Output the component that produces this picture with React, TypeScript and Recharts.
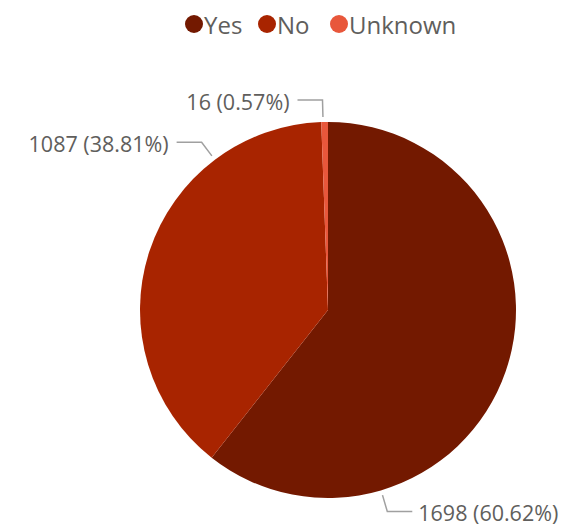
import React from "react";
import { PieChart, Pie, Cell } from "recharts";

const categories = ["Yes", "No", "Unknown"];
const counts = [1698, 1087, 16];
const colors = ["#731900", "#A82400", "#E8573B"];

const data = categories.map((name, i) => ({ name, value: counts[i] }));
const total = counts.reduce((a, b) => a + b, 0);

// label anchor angles (degrees, math orientation) per slice, style only
const LABEL_ANGLES = [-73.6, 127, 91.5];
// legend item left offsets (style only)
const LEGEND_LEFTS = [185, 258, 330];
const TEXT_COLOR = "#605E5C";

const renderLabel = (props: any) => {
  const { cx, cy, outerRadius, index, value } = props;
  const a = (LABEL_ANGLES[index] * Math.PI) / 180;
  const r1 = outerRadius + 5;
  const r2 = outerRadius + 22;
  const x1 = cx + r1 * Math.cos(a);
  const y1 = cy - r1 * Math.sin(a);
  const x2 = cx + r2 * Math.cos(a);
  const y2 = cy - r2 * Math.sin(a);
  const right = Math.cos(a) > 0 && index === 0;
  const x3 = right ? x2 + 25 : x2 - 25;
  const pct = ((value / total) * 100).toFixed(2);
  const tx = right ? x3 + 6 : x3 - 8;
  return (
    <g key={`lbl-${index}`}>
      <polyline
        points={`${x1},${y1} ${x2},${y2} ${x3},${y2}`}
        fill="none"
        stroke="#a0a0a0"
        strokeWidth={1.5}
      />
      <text
        x={tx}
        y={y2 + 1}
        textAnchor={right ? "start" : "end"}
        dominantBaseline="central"
        fill={TEXT_COLOR}
        fontFamily="'Open Sans', sans-serif"
        fontSize={21.5}
      >
        {`${value} (${pct}%)`}
      </text>
    </g>
  );
};

export default function App() {
  return (
    <div style={{ position: "absolute", left: 0, top: 0, width: 570, height: 526 }}>
      <div
        style={{
          position: "absolute",
          left: 0,
          top: 0,
          width: 570,
          height: 50,
          fontFamily: "'Open Sans', sans-serif",
          fontSize: 24,
          color: TEXT_COLOR,
        }}
      >
        {categories.map((c, i) => (
          <div
            key={c}
            style={{
              position: "absolute",
              left: LEGEND_LEFTS[i],
              top: 6,
              display: "flex",
              alignItems: "center",
              height: 36,
            }}
          >
            <span
              style={{
                display: "inline-block",
                width: 18,
                height: 18,
                borderRadius: 9,
                background: colors[i],
                marginRight: 1,
              }}
            />
            <span>{c}</span>
          </div>
        ))}
      </div>
      <PieChart width={570} height={526} margin={{ top: 0, right: 0, bottom: 0, left: 0 }}>
        <Pie
          data={data}
          dataKey="value"
          nameKey="name"
          cx={328}
          cy={310}
          outerRadius={188}
          startAngle={90}
          endAngle={-270}
          stroke="none"
          label={renderLabel}
          labelLine={false}
          isAnimationActive={false}
        >
          {data.map((d, i) => (
            <Cell key={d.name} fill={colors[i]} />
          ))}
        </Pie>
      </PieChart>
    </div>
  );
}
